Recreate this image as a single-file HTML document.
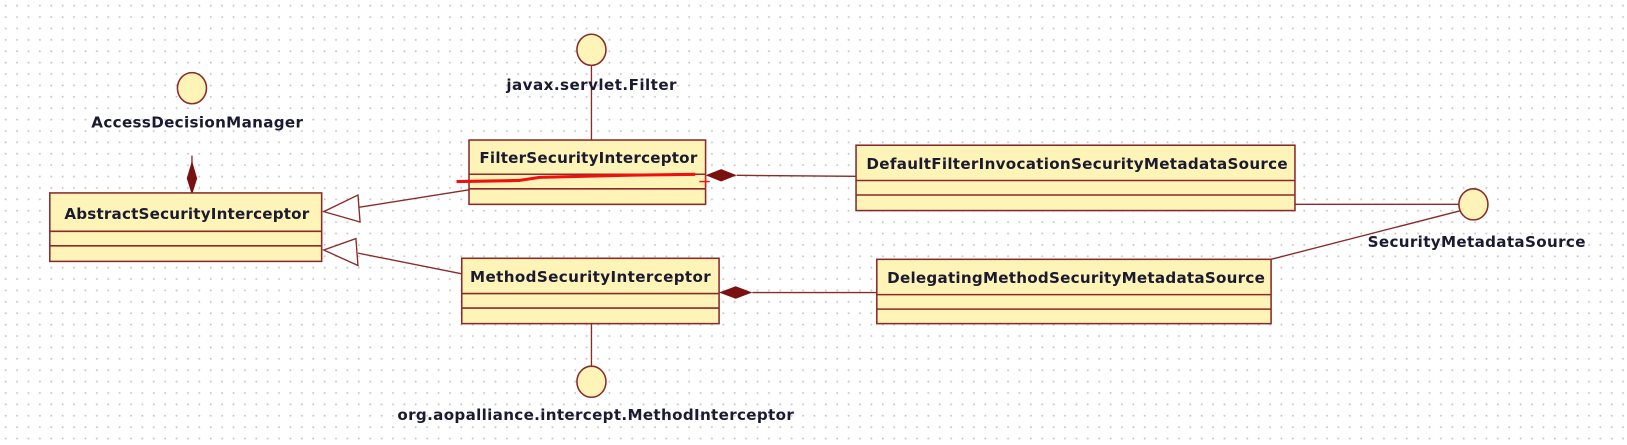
<!DOCTYPE html>
<html><head><meta charset="utf-8"><style>
html,body{margin:0;padding:0;background:#fff}
body{width:1627px;height:445px;overflow:hidden;
background-image:radial-gradient(circle,#c8c8c8 0.8px,transparent 1.2px);background-size:11.4px 11.4px;}
text{font-family:"DejaVu Sans","Liberation Sans",sans-serif;font-weight:bold;font-size:14.6px;fill:#1a1a30}
</style></head><body>
<svg width="1627" height="445" viewBox="0 0 1568 429" preserveAspectRatio="none" xmlns="http://www.w3.org/2000/svg" style="position:absolute;left:0;top:0">
<g stroke="#8a2a2a" stroke-width="1.3" fill="none">
<line x1="570" y1="62" x2="570" y2="135"/>
<line x1="185" y1="150" x2="185" y2="186"/>
<line x1="570" y1="312" x2="570" y2="354"/>
<line x1="452" y1="183" x2="345" y2="200"/>
<line x1="445" y1="264" x2="345" y2="244"/>
<line x1="710" y1="169" x2="825" y2="170"/>
<line x1="725" y1="282" x2="845" y2="282"/>
<line x1="1248" y1="197" x2="1406" y2="197"/>
<line x1="1225" y1="250" x2="1408" y2="203"/>
</g>
<polygon points="185,155 190,172 185,188 180,172" fill="#7a1010"/>
<polygon points="680,169 695,163 710,169 695,175" fill="#7a1010"/>
<polygon points="693,282 709,276 725,282 709,288" fill="#7a1010"/>
<polygon points="312,204 345,188 347,214" fill="#fff" stroke="#8a2a2a" stroke-width="1.3"/>
<polygon points="312,241 343,230 345,256" fill="#fff" stroke="#8a2a2a" stroke-width="1.3"/>
<g fill="#fff4b8" stroke="#8a2a2a" stroke-width="1.5">
<rect x="48" y="186" width="262" height="66"/>
<rect x="452" y="135" width="228" height="62"/>
<rect x="445" y="249" width="248" height="63"/>
<rect x="825" y="140" width="423" height="63"/>
<rect x="845" y="250" width="380" height="62"/>
<ellipse cx="570" cy="48" rx="14" ry="15"/>
<ellipse cx="185" cy="85" rx="14" ry="15"/>
<ellipse cx="1420" cy="197" rx="14" ry="15"/>
<ellipse cx="570" cy="368" rx="14" ry="15"/>
</g>
<g stroke="#8a2a2a" stroke-width="1.5">
<line x1="48" y1="223" x2="310" y2="223"/><line x1="48" y1="237" x2="310" y2="237"/>
<line x1="452" y1="168" x2="680" y2="168"/><line x1="452" y1="182" x2="680" y2="182"/>
<line x1="445" y1="283" x2="693" y2="283"/><line x1="445" y1="297" x2="693" y2="297"/>
<line x1="825" y1="174" x2="1248" y2="174"/><line x1="825" y1="188" x2="1248" y2="188"/>
<line x1="845" y1="284" x2="1225" y2="284"/><line x1="845" y1="298" x2="1225" y2="298"/>
</g>
<text x="62" y="211" textLength="236">AbstractSecurityInterceptor</text>
<text x="462" y="157" textLength="210">FilterSecurityInterceptor</text>
<text x="453" y="272" textLength="232">MethodSecurityInterceptor</text>
<text x="835" y="163" textLength="406">DefaultFilterInvocationSecurityMetadataSource</text>
<text x="855" y="273" textLength="364">DelegatingMethodSecurityMetadataSource</text>
<text x="88" y="123" textLength="204">AccessDecisionManager</text>
<text x="488" y="87" textLength="164">javax.servlet.Filter</text>
<text x="1318" y="238" textLength="210">SecurityMetadataSource</text>
<text x="383" y="405" textLength="382">org.aopalliance.intercept.MethodInterceptor</text>
<path d="M440,175 L500,174 L520,171 L600,169 L670,168" stroke="#f01010" stroke-width="3" fill="none"/>
<path d="M674,175 h10 M680,170 v10" stroke="#f01010" stroke-width="1.3"/>
</svg>
</body></html>
